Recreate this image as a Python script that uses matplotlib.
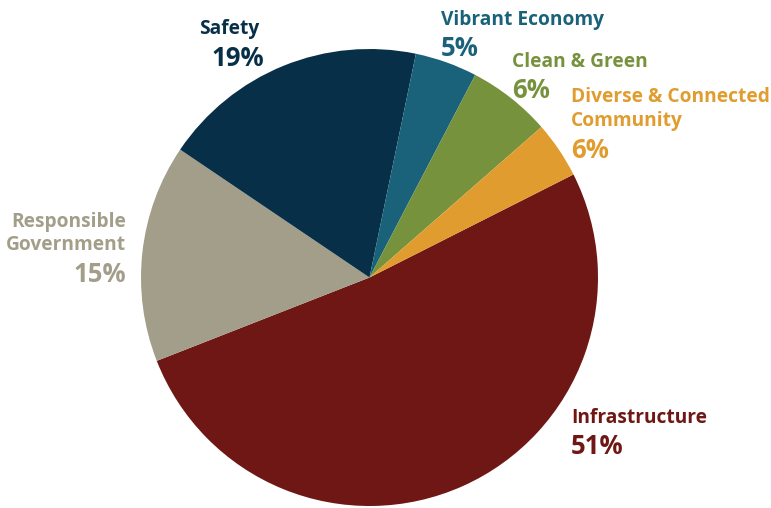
import matplotlib
matplotlib.use("Agg")
import matplotlib.pyplot as plt
import matplotlib.transforms as mtransforms

categories = ["Infrastructure", "Responsible Government", "Safety",
              "Vibrant Economy", "Clean & Green", "Diverse & Connected Community"]
values = [51.5, 15.4, 18.8, 4.4, 5.9, 4.0]
pct_labels = ["51%", "15%", "19%", "5%", "6%", "6%"]
display_names = ["Infrastructure", "Responsible\nGovernment", "Safety",
                 "Vibrant Economy", "Clean & Green", "Diverse & Connected\nCommunity"]
colors = ["#6e1714", "#a39e8a", "#072f47", "#1a627a", "#76923c", "#e09c2e"]

W, H = 771, 508
CX, CY, R = 369.5, 277.5, 228.5
fig = plt.figure(figsize=(W / 100, H / 100), dpi=100)
ax = fig.add_axes([0, 0, 1, 1])

wedges, _ = ax.pie(values, colors=colors, startangle=26.8, counterclock=False,
                   center=(CX, CY), radius=R, frame=True)
flip = mtransforms.Affine2D().translate(0, -CY).scale(1, -1).translate(0, CY)
for w in wedges:
    w.set_transform(flip + ax.transData)
ax.set_xlim(0, W)
ax.set_ylim(H, 0)
ax.set_aspect("equal")
ax.axis("off")

font = "Open Sans"
layout = {
    "Infrastructure": (571, 418, 446, "left"),
    "Responsible Government": (126, 233.5, 274, "right"),
    "Safety": (229, 29, 58, "center"),
    "Vibrant Economy": (441, 20, 48, "left"),
    "Clean & Green": (512, 62, 90, "left"),
    "Diverse & Connected Community": (571, 109, 150, "left"),
}
for cat, name, pct, col in zip(categories, display_names, pct_labels, colors):
    x, yn, yp, ha = layout[cat]
    ax.text(x, yn, name, ha=ha, va="center", color=col, fontsize=13.8,
            fontweight="bold", family=font, linespacing=1.25, multialignment=ha)
    xp = x + 9 if cat == "Safety" else x
    ax.text(xp, yp, pct, ha=ha, va="center", color=col, fontsize=18.5,
            fontweight="bold", family=font)

fig.savefig("out.png", dpi=100)
